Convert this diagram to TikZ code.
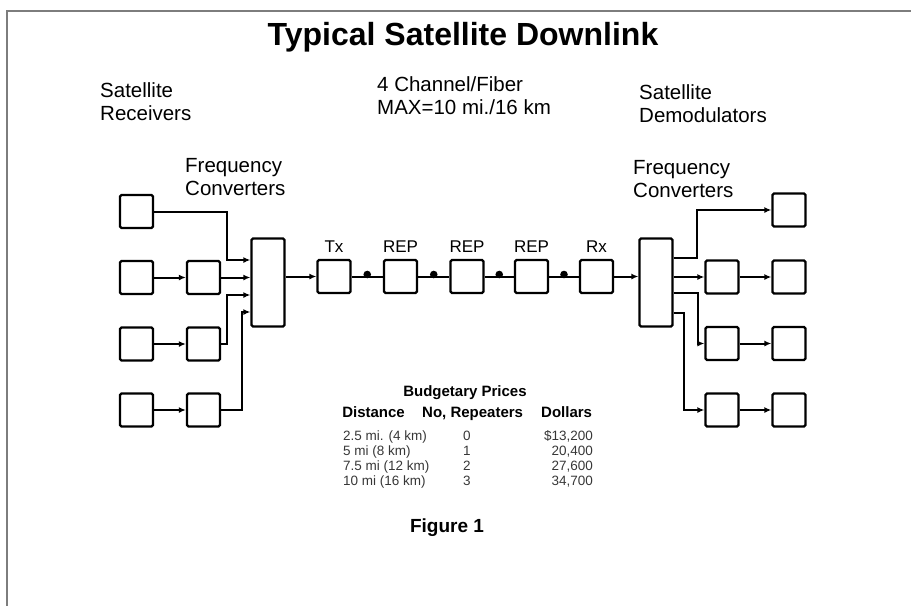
\documentclass[tikz,border=0pt]{standalone}
\usepackage{fontspec}
\setmainfont{Liberation Sans}
\usetikzlibrary{arrows.meta, positioning, calc}
\definecolor{framegray}{RGB}{125,125,125}
\definecolor{rowgray}{RGB}{55,55,55}

\begin{document}
\begin{tikzpicture}[x=1pt, y=-1pt,
  box/.style={draw, line width=2.3pt, rounded corners=1.5pt, minimum width=33pt, minimum height=33pt, inner sep=0pt},
  tallbox/.style={box, minimum height=88pt},
  feed/.style={line width=2pt, -{Latex[length=7pt,width=6pt]}},
  link/.style={line width=2pt},
  lbl/.style={font=\fontsize{20.5}{23}\selectfont, align=left, anchor=west, inner sep=0pt},
  chn/.style={font=\fontsize{17}{20}\selectfont, inner sep=0pt},
  hdr/.style={font=\bfseries\fontsize{15}{17}\selectfont, inner sep=0pt},
  row/.style={font=\fontsize{13.5}{15}\selectfont, text=rowgray, inner sep=0pt}]
  \useasboundingbox (0,0) rectangle (911,606);
  \draw[framegray, line width=2pt] (911,11) -- (7,11) -- (7,606);

  % headings
  \node (title) at (463,37) {\bfseries\fontsize{32}{36}\selectfont Typical Satellite Downlink};
  \node[lbl] (rcvlbl) at (100,102) {Satellite\\Receivers};
  \node[lbl] (fiblbl) at (377,96) {4 Channel/Fiber\\MAX=10 mi./16 km};
  \node[lbl] (demlbl) at (639,104) {Satellite\\Demodulators};
  \node[lbl] (cnvlbl) at (185,177) {Frequency\\Converters};
  \node[lbl] (dcvlbl) at (633,179) {Frequency\\Converters};

  % receiving end
  \node[box] (rcv1) at (136.5,211.5) {};
  \foreach \i/\y in {2/277.5, 3/344, 4/410} {
    \node[box] (rcv\i) at (136.5,\y) {};
    \node[box] (cnv\i) at (203.5,\y) {};
    \draw[feed] (rcv\i) -- (cnv\i);
  }
  \node[tallbox] (mux) at (268,282.5) {};
  \coordinate (m1) at ([yshift=22.5pt]mux.west);
  \coordinate (m3) at ([yshift=-12.5pt]mux.west);
  \coordinate (m4) at ([yshift=-29.5pt]mux.west);
  \draw[feed] (rcv1.east) -| ([xshift=-23pt]m1) -- (m1);
  \draw[feed] (cnv2.east) -- (cnv2.east -| mux.west);
  \draw[feed] (cnv3.east) -| ([xshift=-23pt]m3) -- (m3);
  \draw[feed] (cnv4.east) -| ([xshift=-8pt]m4) -- (m4);

  % fiber link
  \node[box] (tx) at (334,276.5) {};
  \node[box] (rep1) at (400.5,276.5) {};
  \node[box] (rep2) at (467,276.5) {};
  \node[box] (rep3) at (531.5,276.5) {};
  \node[box] (rx) at (596.5,276.5) {};
  \node[chn, above=6pt of tx] (txlbl) {Tx};
  \foreach \r in {1,2,3}
    \node[chn, above=6pt of rep\r] (replbl\r) {REP};
  \node[chn, above=6pt of rx] (rxlbl) {Rx};
  \draw[feed] (tx -| mux.east) -- (tx);
  \foreach \a/\b in {tx/rep1, rep1/rep2, rep2/rep3, rep3/rx} {
    \draw[link] (\a) -- (\b);
    \fill ($(\a.east)!0.5!(\b.west)+(0,-2)$) circle (3.8pt);
  }

  % demodulating end
  \node[tallbox] (dmx) at (656,282.5) {};
  \draw[feed] (rx) -- (rx -| dmx.west);
  \node[box] (dem1) at (789,210) {};
  \foreach \i/\y in {2/277, 3/343.5, 4/410} {
    \node[box] (dcv\i) at (722,\y) {};
    \node[box] (dem\i) at (789,\y) {};
    \draw[feed] (dcv\i) -- (dem\i);
  }
  \coordinate (d1) at ([yshift=24.5pt]dmx.east);
  \coordinate (d3) at ([yshift=-10.5pt]dmx.east);
  \coordinate (d4) at ([yshift=-30.5pt]dmx.east);
  \draw[feed] (d1) -- ++(23,0) |- (dem1);
  \draw[feed] (dmx.east |- dcv2) -- (dcv2);
  \draw[feed] (d3) -- ++(24,0) |- (dcv3);
  \draw[feed] (d4) -- ++(10,0) |- (dcv4);

  % price table
  \node[hdr, anchor=base] (budget) at (465,396) {Budgetary Prices};
  \node[hdr, anchor=base east] (hdist) at (405,417) {Distance};
  \node[hdr, anchor=base west] (hnrep) at (422,417) {No, Repeaters};
  \node[hdr, anchor=base west] (hcost) at (541,417) {Dollars};
  \foreach \d/\n/\p [count=\k] in {2.5 mi. (4 km)/0/{\$13,200}, 5 mi (8 km)/1/{20,400}, 7.5 mi (12 km)/2/{27,600}, 10 mi (16 km)/3/{34,700}} {
    \node[row, anchor=base west] (dist\k) at (343,425+15*\k) {\d};
    \node[row, anchor=base] (nrep\k) at (467,425+15*\k) {\n};
    \node[row, anchor=base east] (cost\k) at (593,425+15*\k) {\p};
  }

  \node (fig) at (447,528) {\bfseries\fontsize{19}{22}\selectfont Figure 1};
\end{tikzpicture}
\end{document}
